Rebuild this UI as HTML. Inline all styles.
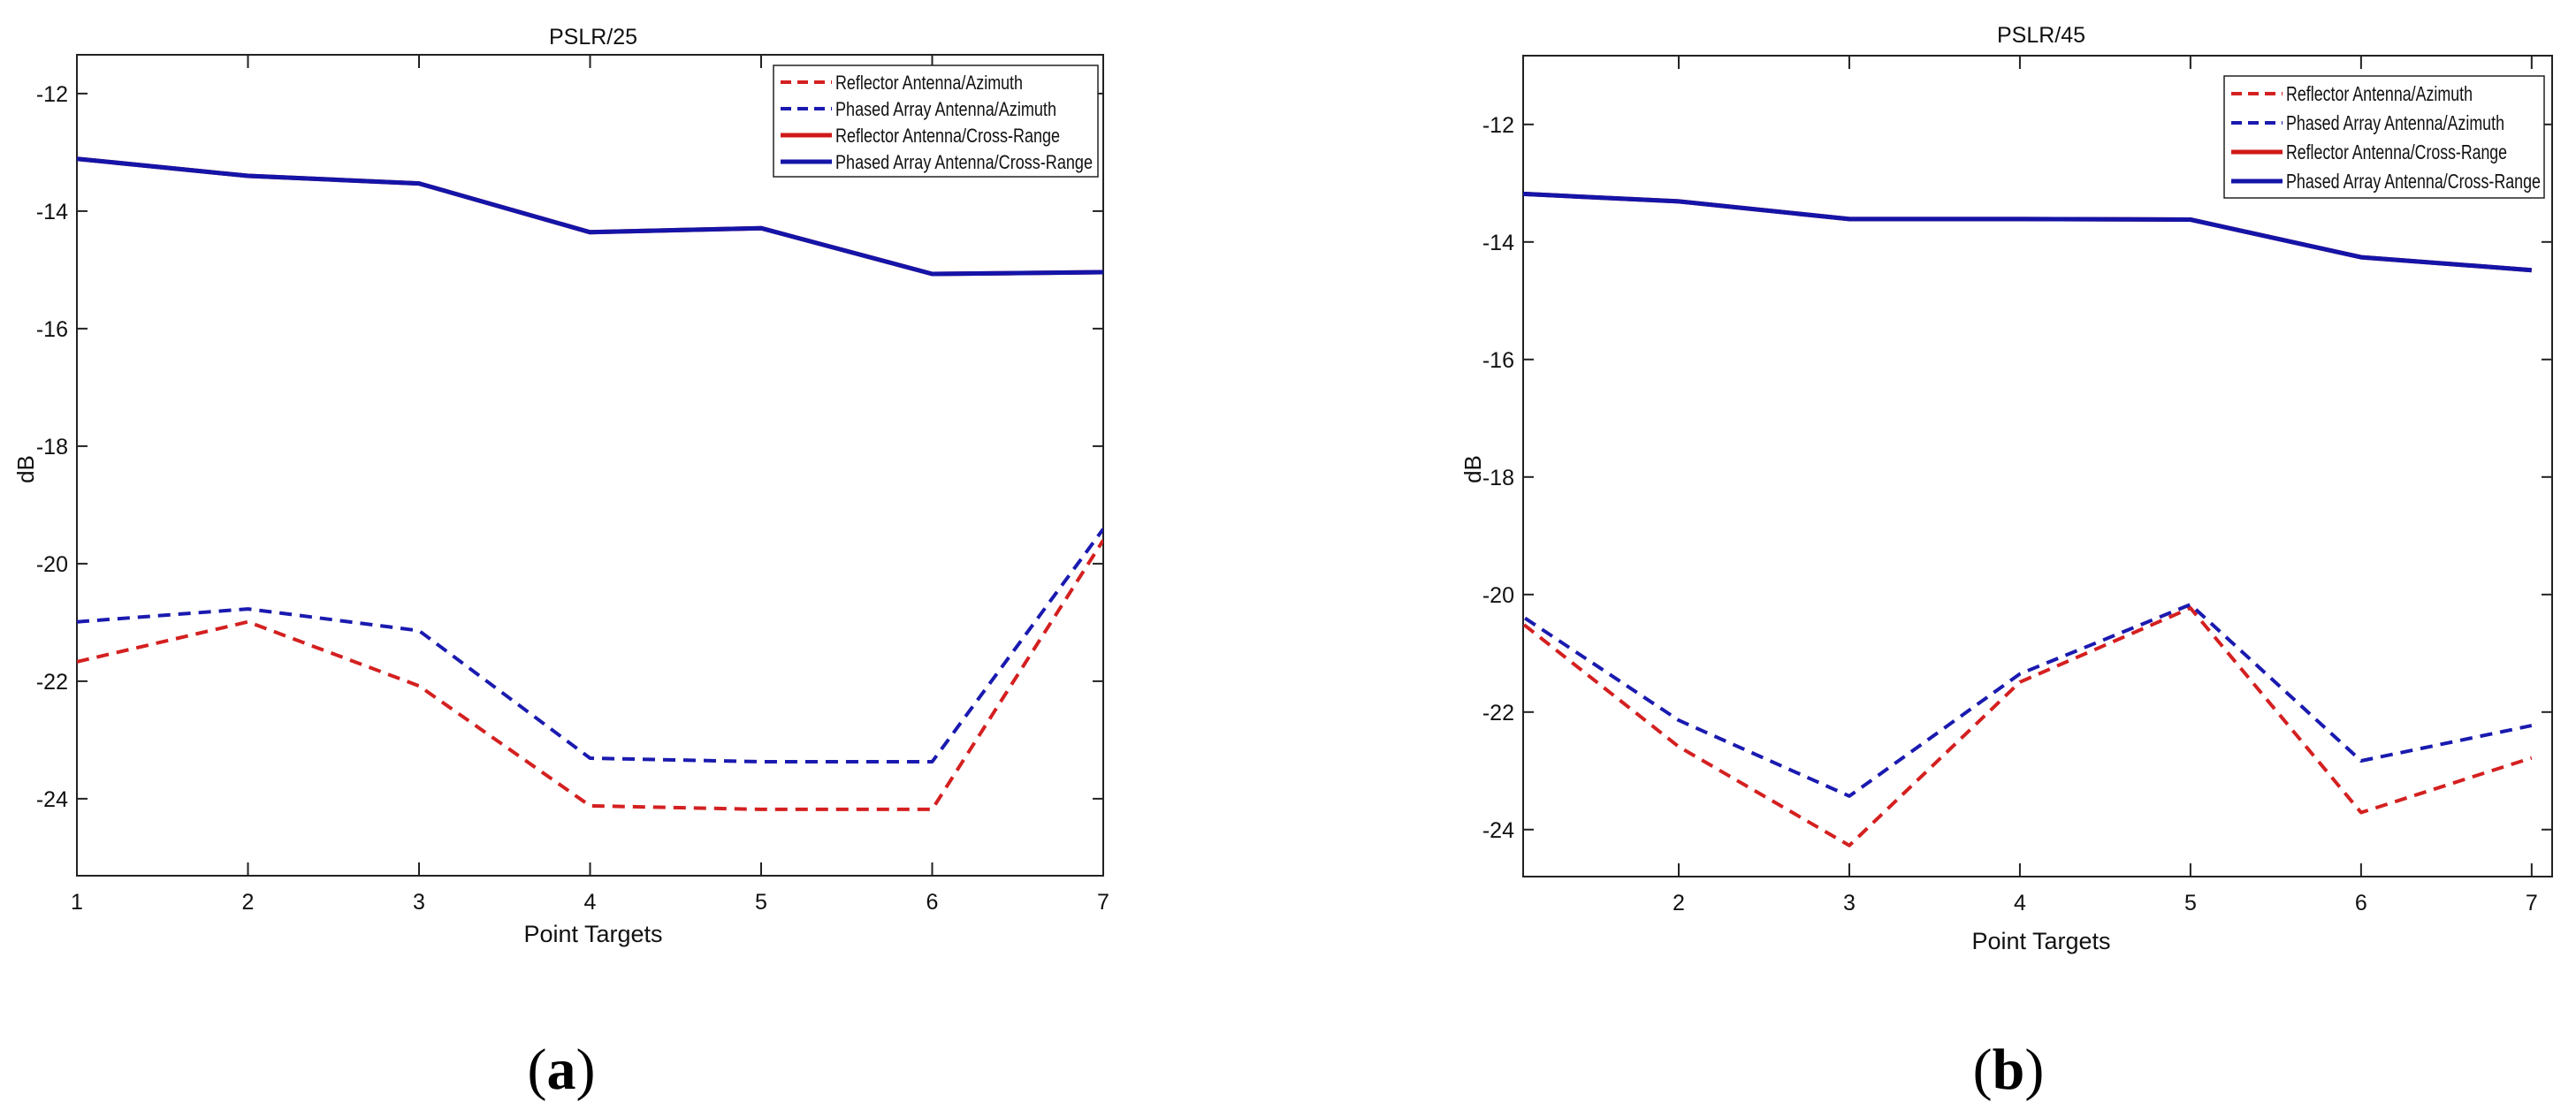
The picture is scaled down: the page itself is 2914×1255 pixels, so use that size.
<!DOCTYPE html>
<html><head><meta charset="utf-8"><style>
html,body{margin:0;padding:0;background:#fff;}
svg{display:block;font-family:"Liberation Sans",sans-serif;}
</style></head><body>
<svg id="fig" width="2914" height="1255" viewBox="0 0 2914 1255"></svg>
<script>
const categories = [1,2,3,4,5,6,7];
const yTicks = [-12,-14,-16,-18,-20,-22,-24];
const a_reflAz = [-21.67,-20.99,-22.08,-24.12,-24.18,-24.18,-19.6];
const a_phasedAz = [-20.99,-20.77,-21.14,-23.31,-23.37,-23.37,-19.41];
const a_reflCR = [-13.11,-13.40,-13.53,-14.36,-14.29,-15.07,-15.04];
const a_phasedCR = [-13.11,-13.40,-13.53,-14.36,-14.29,-15.07,-15.04];
const b_reflAz = [-20.3,-22.59,-24.27,-21.49,-20.23,-23.71,-22.78];
const b_phasedAz = [-20.21,-22.14,-23.43,-21.35,-20.17,-22.83,-22.23];
const b_reflCR = [-13.17,-13.31,-13.61,-13.61,-13.62,-14.26,-14.48];
const b_phasedCR = [-13.17,-13.31,-13.61,-13.61,-13.62,-14.26,-14.48];
const legendLabels = ["Reflector Antenna/Azimuth","Phased Array Antenna/Azimuth","Reflector Antenna/Cross-Range","Phased Array Antenna/Cross-Range"];

const NS="http://www.w3.org/2000/svg";
const svg=document.getElementById('fig');
function mk(tag,attrs,parent,text){const e=document.createElementNS(NS,tag);for(const k in attrs)e.setAttribute(k,attrs[k]);if(text!==undefined)e.textContent=text;(parent||svg).appendChild(e);return e;}

function chart(cfg){
  const g=mk('g',{});
  
  
  const L=cfg.L,R=cfg.R,T=cfg.T,B=cfg.B;
  const sx=v=>L+(v-cfg.xmin)/(cfg.xmax-cfg.xmin)*(R-L);
  const sy=v=>T+(cfg.ymax-v)/(cfg.ymax-cfg.ymin)*(B-T);
  const clipId='clip-'+cfg.id;
  const defs=mk('defs',{},g);const cp=mk('clipPath',{id:clipId},defs);mk('rect',{x:L,y:T,width:R-L,height:B-T},cp);
  const box=mk('rect',{x:L,y:T,width:R-L,height:B-T,fill:'none',stroke:'#222','stroke-width':2},g);
  
  
  yTicks.forEach(t=>{
    const y=sy(t);
    mk('line',{x1:L,x2:L+12,y1:y,y2:y,stroke:'#222','stroke-width':2},g);
    mk('line',{x1:R,x2:R-12,y1:y,y2:y,stroke:'#222','stroke-width':2},g);
    const tx=mk('text',{x:L-10,y:y+9,'text-anchor':'end','font-size':25,fill:'#111'},g,String(t));
    
    
  });
  categories.forEach(c=>{
    const x=sx(c);
    if(x<L-1)return;
    mk('line',{x1:x,x2:x,y1:B,y2:B-15,stroke:'#222','stroke-width':2},g);
    mk('line',{x1:x,x2:x,y1:T,y2:T+15,stroke:'#222','stroke-width':2},g);
    const tx=mk('text',{x:x,y:B+38,'text-anchor':'middle','font-size':25,fill:'#111'},g,String(c));
    
    
  });
  const title=mk('text',{x:cfg.tx,y:cfg.ty,'text-anchor':'middle','font-size':25,fill:'#111'},g,cfg.title);
  
  
  const xl=mk('text',{x:cfg.tx,y:cfg.xly,'text-anchor':'middle','font-size':27,fill:'#111'},g,'Point Targets');
  
  
  const yl=mk('text',{x:cfg.ylx,y:531,'text-anchor':'middle','font-size':26,fill:'#111',transform:'rotate(-90 '+cfg.ylx+' 531)'},g,'dB');
  
  
  const cap=mk('text',{x:cfg.capx,y:1232,'text-anchor':'middle','font-size':66,fill:'#000','font-family':'"Liberation Serif",serif'},g);
  
  
  mk('tspan',{},cap,'(');mk('tspan',{'font-weight':'bold'},cap,cfg.cap);mk('tspan',{},cap,')');
  const series=[
    {d:cfg.s[2],c:'#d01818',w:5,dash:null,n:'reflector-cross-range-line'},
    {d:cfg.s[3],c:'#1414a8',w:5,dash:null,n:'phased-cross-range-line'},
    {d:cfg.s[0],c:'#d42020',w:4,dash:'14 9',n:'reflector-azimuth-line'},
    {d:cfg.s[1],c:'#1a1ab0',w:4,dash:'14 9',n:'phased-azimuth-line'}
  ];
  const sg=mk('g',{'clip-path':'url(#'+clipId+')'},g);
  series.forEach(s=>{
    const pts=s.d.map((v,i)=>sx(categories[i]).toFixed(1)+','+sy(v).toFixed(1)).join(' ');
    const a={points:pts,fill:'none',stroke:s.c,'stroke-width':s.w,'stroke-linejoin':'round'};
    if(s.dash)a['stroke-dasharray']=s.dash;
    const pl=mk('polyline',a,sg);
    
    
  });
  const lg=mk('g',{},g);
  
  
  const lb=cfg.leg;
  mk('rect',{x:lb.x,y:lb.y,width:lb.w,height:lb.h,fill:'#fff',stroke:'#222','stroke-width':1.5},lg);
  const lc=[['#d42020','14 9'],['#1a1ab0','14 9'],['#d01818',null],['#1414a8',null]];
  legendLabels.forEach((t,i)=>{
    const y=lb.y+lb.row0+i*lb.dy;
    const la={x1:lb.x+8,x2:lb.x+66,y1:y,y2:y,stroke:lc[i][0],'stroke-width':lc[i][1]?4:5};
    if(lc[i][1])la['stroke-dasharray']='12 7';
    const ln=mk('line',la,lg);
    
    
    const tt=mk('text',{x:lb.x+70,y:y+8,'font-size':lb.fs,fill:'#111',textLength:lb.tl[i],lengthAdjust:'spacingAndGlyphs'},lg,t);
    
    
  });
}
chart({id:'pslr25',L:87,R:1248,T:62,B:991,xmin:1,xmax:7,ymin:-25.31,ymax:-11.34,
  tx:671,ty:50,xly:1066,ylx:38,capx:635,cap:'a',title:'PSLR/25',
  s:[a_reflAz,a_phasedAz,a_reflCR,a_phasedCR],
  leg:{x:875,y:74,w:367,h:126,row0:19,dy:30,fs:22,tl:[212,250,254,291]}});
chart({id:'pslr45',L:1723,R:2887,T:63,B:992,xmin:1.088,xmax:7.12,ymin:-24.8,ymax:-10.83,
  tx:2309,ty:48,xly:1074,ylx:1675,capx:2272,cap:'b',title:'PSLR/45',
  s:[b_reflAz,b_phasedAz,b_reflCR,b_phasedCR],
  leg:{x:2516,y:86,w:362,h:138,row0:20,dy:33,fs:23,tl:[211,247,250,288]}});
</script>
</body></html>
